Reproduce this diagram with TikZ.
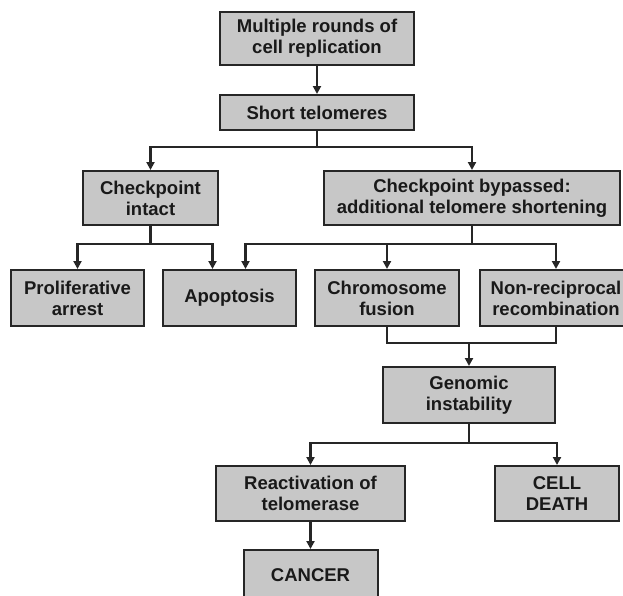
\documentclass[tikz,border=0pt]{standalone}
\usepackage{fontspec}
\setsansfont{Liberation Sans}
\usetikzlibrary{arrows.meta,positioning,calc}
\tikzset{
  stage/.style={
    rectangle, draw=black!85, line width=2pt, fill=black!22,
    align=center, inner sep=2pt, text=black!90,
    font=\fontsize{18.5}{21}\selectfont\sffamily\bfseries
  },
  flow/.style={-{Triangle[width=8pt,length=8pt]}, line width=2.5pt, draw=black!85},
  link/.style={line width=2.5pt, draw=black!85}
}

\begin{document}
\begin{tikzpicture}[x=1pt, y=-1pt, node distance=28pt]
  \useasboundingbox (0,0) rectangle (623,595);

  \node[stage, minimum width=194pt, minimum height=53pt] at (317,38.5) (mult)
    {Multiple rounds of\\cell replication};
  \node[stage, below=of mult, minimum width=194pt, minimum height=35pt] (short)
    {Short telomeres};

  % Checkpoint branches
  \node[stage, minimum width=135pt, minimum height=54pt] at (150.5,198) (intact)
    {Checkpoint\\intact};
  \node[stage, minimum width=296pt, minimum height=54pt] at (472,198) (bypass)
    {Checkpoint bypassed:\\additional telomere shortening};

  % Outcomes
  \node[stage, minimum width=133pt, minimum height=56pt] at (77.5,298) (prolif)
    {Proliferative\\arrest};
  \node[stage, right=17pt of prolif, minimum width=133pt, minimum height=56pt] (apop)
    {Apoptosis};
  \node[stage, minimum width=144pt, minimum height=56pt] at (387,298) (fusion)
    {Chromosome\\fusion};
  \node[stage, minimum width=152pt, minimum height=56pt] at (556,298) (nonrec)
    {Non-reciprocal\\recombination};

  \node[stage, minimum width=172pt, minimum height=56pt] at (469,395) (genomic)
    {Genomic\\instability};
  \node[stage, minimum width=189pt, minimum height=55pt] at (310.5,493.5) (react)
    {Reactivation of\\telomerase};
  \node[stage, minimum width=124pt, minimum height=55pt] at (557,493.5) (death)
    {CELL\\DEATH};
  \node[stage, below=27pt of react, minimum width=134pt, minimum height=50pt] (cancer)
    {CANCER};

  % Flows
  \draw[flow] (mult) -- (short);
  \draw[flow] (short.south) -- ++(0,16) -| (intact.north);
  \draw[flow] (short.south) -- ++(0,16) -| (bypass.north);

  \draw[flow] (intact.south) -- ++(0,18) -| (prolif.north);
  \draw[flow] (intact.south) -- ++(0,18) -| ($(apop.north)+(-17,0)$);
  \draw[flow] (bypass.south) -- ++(0,18) -| ($(apop.north)+(16,0)$);
  \draw[flow] (bypass.south) -- ++(0,18) -| (fusion.north);
  \draw[flow] (bypass.south) -- ++(0,18) -| (nonrec.north);

  \draw[link] (fusion.south) -- ++(0,16) coordinate (join) -| (nonrec.south);
  \draw[flow] (join -| genomic.north) -- (genomic.north);

  \draw[flow] (genomic.south) -- ++(0,19) -| (react.north);
  \draw[flow] (genomic.south) -- ++(0,19) -| (death.north);
  \draw[flow] (react) -- (cancer);

\end{tikzpicture}
\end{document}
